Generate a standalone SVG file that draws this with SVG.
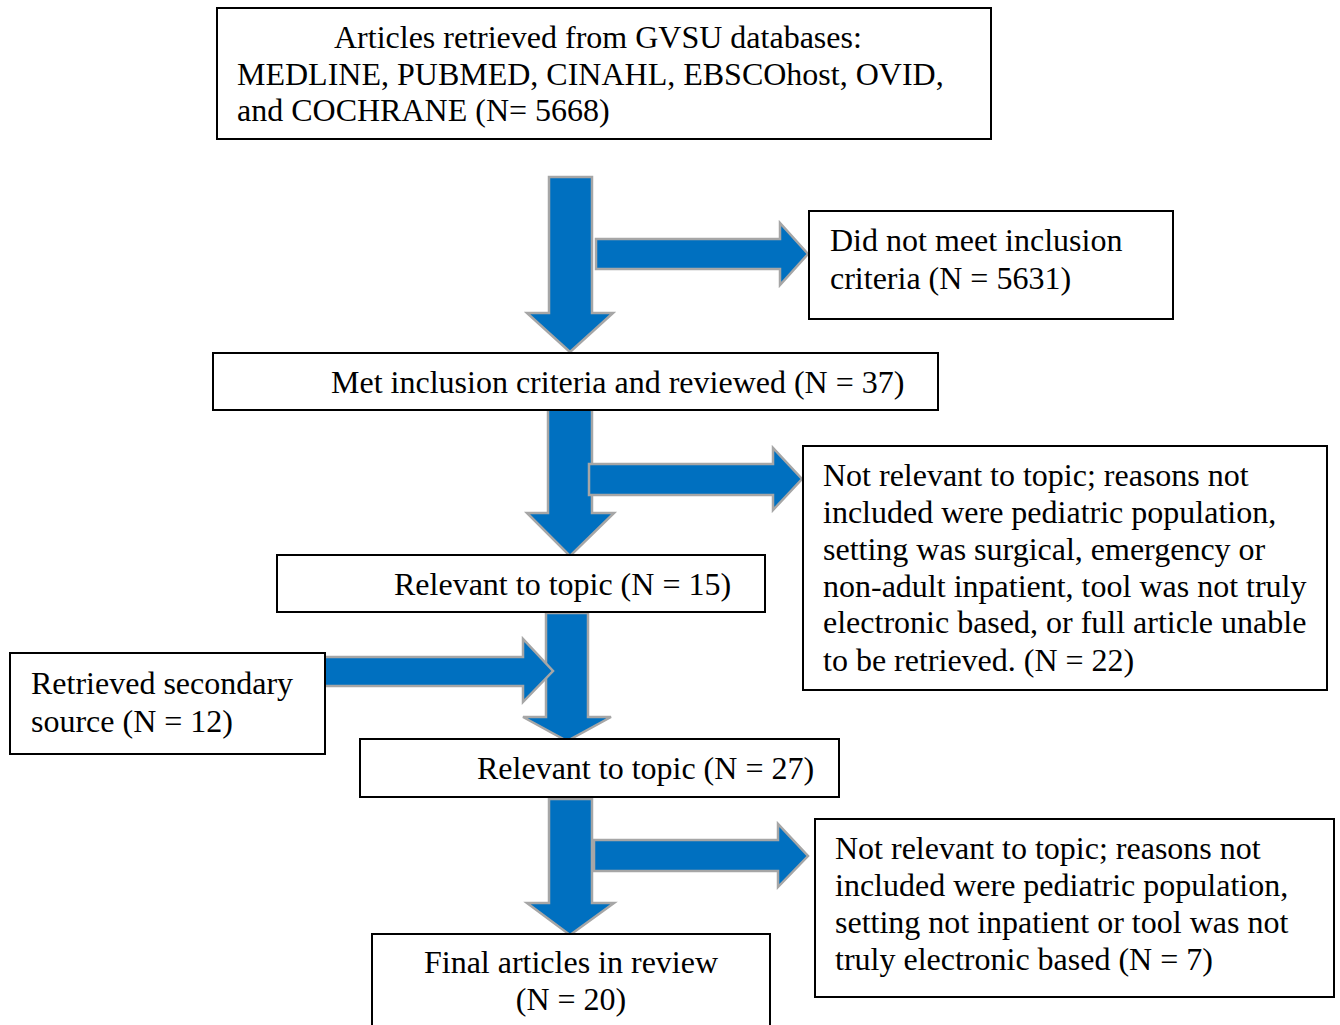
<svg xmlns="http://www.w3.org/2000/svg" width="1340" height="1025" viewBox="0 0 1340 1025">
<style>
.box{fill:#fff;stroke:#000;stroke-width:2}
.arr{fill:#0070C0;stroke:#A6A6A6;stroke-width:2.5;stroke-linejoin:miter}
text{font-family:"Liberation Serif","Times New Roman",serif;font-size:32px;fill:#000}
</style>
<rect width="1340" height="1025" fill="#fff"/>
<g id="connectors">
<polygon class="arr" points="549,177 592,177 592,313 613,313 570,352 527,313 549,313"/>
<polygon class="arr" points="596,239 780,239 780,223 808,254 780,285 780,269 596,269"/>
<polygon class="arr" points="548,409 592,409 592,513 614,513 570,556 527,513 548,513"/>
<polygon class="arr" points="589,464 773,464 773,448 802,479 773,510 773,495 589,495"/>
<polygon class="arr" points="546,613 588,613 588,717 611,717 567,741 523,717 546,717"/>
<polygon class="arr" points="324,657 523,657 523,639 553,671 523,702 523,686 324,686"/>
<polygon class="arr" points="549,799 592,799 592,903 614,903 570,935 527,903 549,903"/>
<polygon class="arr" points="594,840 778,840 778,824 808,856 778,887 778,871 594,871"/>
</g>
<g id="n1"><rect class="box" x="217" y="8" width="774" height="131"/>
<text x="334" y="48">Articles retrieved from GVSU databases:</text>
<text x="237" y="85">MEDLINE, PUBMED, CINAHL, EBSCOhost, OVID,</text>
<text x="237" y="121">and COCHRANE (N= 5668)</text></g>
<g id="n2"><rect class="box" x="809" y="211" width="364" height="108"/>
<text x="830" y="251">Did not meet inclusion</text>
<text x="830" y="289">criteria (N = 5631)</text></g>
<g id="n3"><rect class="box" x="213" y="353" width="725" height="57"/>
<text x="331" y="393">Met inclusion criteria and reviewed (N = 37)</text></g>
<g id="n4"><rect class="box" x="803" y="446" width="524" height="244"/>
<text x="823" y="486">Not relevant to topic; reasons not</text>
<text x="823" y="523">included were pediatric population,</text>
<text x="823" y="560">setting was surgical, emergency or</text>
<text x="823" y="597">non-adult inpatient, tool was not truly</text>
<text x="823" y="633">electronic based, or full article unable</text>
<text x="823" y="671">to be retrieved. (N = 22)</text></g>
<g id="n5"><rect class="box" x="277" y="555" width="488" height="57"/>
<text x="394" y="595">Relevant to topic (N = 15)</text></g>
<g id="n7"><rect class="box" x="10" y="653" width="315" height="101"/>
<text x="31" y="694">Retrieved secondary</text>
<text x="31" y="732">source (N = 12)</text></g>
<g id="n6"><rect class="box" x="360" y="739" width="479" height="58"/>
<text x="477" y="779">Relevant to topic (N = 27)</text></g>
<g id="n9"><rect class="box" x="815" y="819" width="519" height="178"/>
<text x="835" y="859">Not relevant to topic; reasons not</text>
<text x="835" y="896">included were pediatric population,</text>
<text x="835" y="933">setting not inpatient or tool was not</text>
<text x="835" y="970">truly electronic based (N = 7)</text></g>
<g id="n8"><rect class="box" x="372" y="934" width="398" height="95"/>
<text x="571" y="973" text-anchor="middle">Final articles in review</text>
<text x="571" y="1010" text-anchor="middle">(N = 20)</text></g>
</svg>
